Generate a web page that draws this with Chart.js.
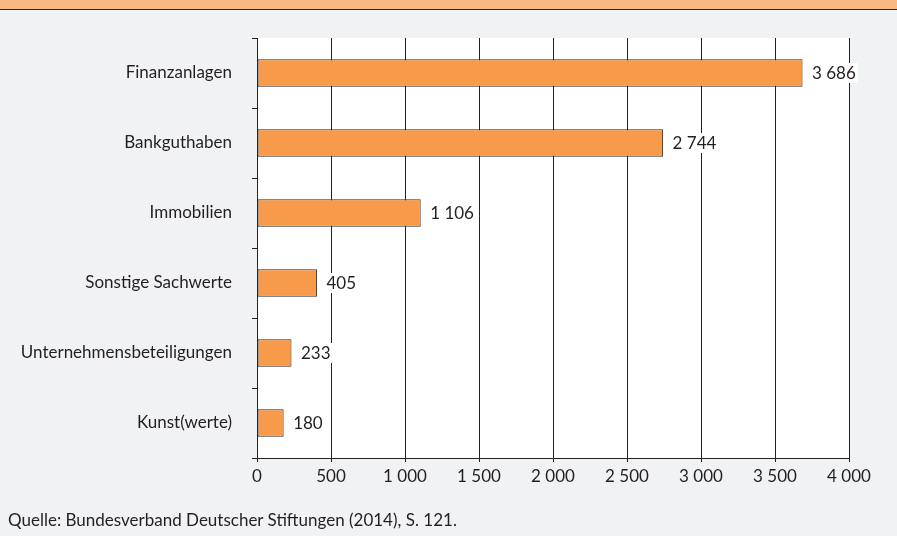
<!DOCTYPE html>
<html>
<head>
<meta charset="utf-8">
<script src="https://cdn.jsdelivr.net/npm/chart.js@4/dist/chart.umd.min.js"></script>
<style>
  html, body { margin: 0; padding: 0; background: #f1f2f4; }
  #wrap { position: relative; width: 897px; height: 536px; overflow: hidden; }
  #header { position: absolute; left: 0; top: 0; width: 897px; height: 9px; background: #fbb982; border-bottom: 1px solid #2a2a2a; }
  canvas { position: absolute; left: 0; top: 0; }
  #source { position: absolute; left: 8px; top: 511px; line-height: 17px; font-family: Lato, "Liberation Sans", sans-serif; font-size: 17px; color: #231f20; white-space: nowrap; }
</style>
</head>
<body>
<div id="wrap">
  <canvas id="c" width="897" height="536"></canvas>
  <div id="header"></div>
  <div id="source">Quelle: Bundesverband Deutscher Stiftungen (2014), S. 121.</div>
</div>
<script>
const categories = ["Finanzanlagen", "Bankguthaben", "Immobilien", "Sonstige Sachwerte", "Unternehmensbeteiligungen", "Kunst(werte)"];
const values = [3686, 2744, 1106, 405, 233, 180];
const xTicks = [0, 500, 1000, 1500, 2000, 2500, 3000, 3500, 4000];

const FONT = "Lato, 'Liberation Sans', sans-serif";
const TEXT = "#231f20";
const fmt = v => String(v).replace(/\B(?=(\d{3})+(?!\d))/g, " ");

const bgPlugin = {
  id: "bg",
  beforeDraw(chart) {
    const { ctx, chartArea: a } = chart;
    ctx.save();
    ctx.fillStyle = "#ffffff";
    ctx.fillRect(a.left, a.top, a.right - a.left, a.bottom - a.top);
    ctx.restore();
  }
};

const labelPlugin = {
  id: "vlabels",
  afterDatasetsDraw(chart) {
    const { ctx } = chart;
    const meta = chart.getDatasetMeta(0);
    ctx.save();
    ctx.font = "17px " + FONT;
    ctx.textBaseline = "middle";
    ctx.textAlign = "left";
    meta.data.forEach((bar, i) => {
      const t = fmt(chart.data.datasets[0].data[i]);
      const x = bar.x + 9.5;
      const w = ctx.measureText(t).width;
      ctx.fillStyle = "#ffffff";
      ctx.fillRect(x - 2, bar.y - 10, w + 4, 20);
      ctx.fillStyle = TEXT;
      ctx.fillText(t, x, bar.y + 1);
    });
    ctx.restore();
  }
};

new Chart(document.getElementById("c"), {
  type: "bar",
  data: {
    labels: categories,
    datasets: [{
      data: values,
      backgroundColor: "#f79a4a",
      borderColor: "#2a2a2a",
      borderWidth: 1,
      borderSkipped: false,
      categoryPercentage: 1,
      barPercentage: 0.39
    }]
  },
  options: {
    indexAxis: "y",
    responsive: false,
    animation: false,
    devicePixelRatio: 1,
    layout: { padding: { left: 0, top: 38, right: 48, bottom: 48 } },
    plugins: { legend: { display: false }, tooltip: { enabled: false }, title: { display: false } },
    scales: {
      x: {
        min: 0, max: 4000,
        afterBuildTicks(scale) { scale.ticks = xTicks.map(v => ({ value: v })); },
        afterFit(scale) { scale.height = 30; },
        grid: { color: "#222", lineWidth: 1, drawTicks: true, tickLength: 4, tickColor: "#222" },
        border: { display: true, color: "#222", width: 1 },
        ticks: { color: TEXT, font: { family: FONT, size: 17 }, padding: 4, maxRotation: 0, callback: v => fmt(v) }
      },
      y: {
        afterFit(scale) { scale.width = 257; },
        grid: { offset: true, drawOnChartArea: false, drawTicks: true, tickLength: 5, color: "#222", tickColor: "#222" },
        border: { display: true, color: "#222", width: 1 },
        ticks: { color: TEXT, font: { family: FONT, size: 17 }, padding: 20 }
      }
    }
  },
  plugins: [bgPlugin, labelPlugin]
});
</script>
</body>
</html>
